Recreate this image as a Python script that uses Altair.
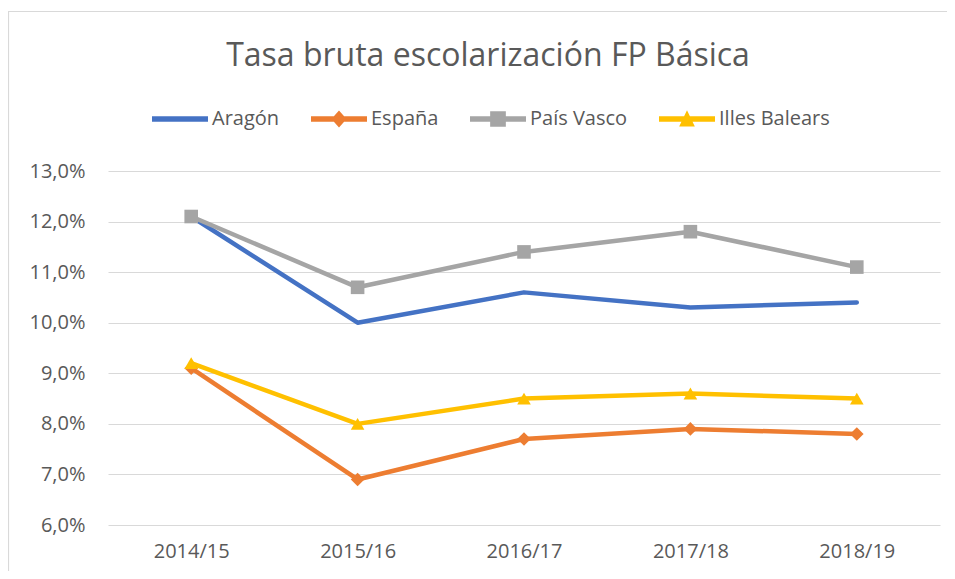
import altair as alt
import pandas as pd

years = ["2014/15", "2015/16", "2016/17", "2017/18", "2018/19"]
regions = ["Aragón", "España", "País Vasco", "Illes Balears"]
aragon = [12.1, 10.0, 10.6, 10.3, 10.4]
espana = [9.1, 6.9, 7.7, 7.9, 7.8]
pais_vasco = [12.1, 10.7, 11.4, 11.8, 11.1]
illes_balears = [9.2, 8.0, 8.5, 8.6, 8.5]
colors = ["#4472C4", "#ED7D31", "#A5A5A5", "#FFC000"]
markers = [None, "diamond", "square", "triangle-up"]
y_ticks = [6, 7, 8, 9, 10, 11, 12, 13]
title_text = "Tasa bruta escolarización FP Básica"

rows = []
for name, vals in zip(regions, [aragon, espana, pais_vasco, illes_balears]):
    for yr, v in zip(years, vals):
        rows.append({"region": name, "year": yr, "value": v})
df = pd.DataFrame(rows)

TXT = "#595959"
FONT = "Open Sans"

# legend symbols: line segment + marker (custom paths)
line_p = "M-1,-0.1H1V0.1H-1Z"
legend_paths = [
    line_p,
    line_p + "M0,-0.3L0.27,0L0,0.3L-0.27,0Z",
    line_p + "M-0.28,-0.28H0.28V0.28H-0.28Z",
    line_p + "M0,-0.31L0.28,0.27H-0.28Z",
]

legend = alt.Legend(
    orient="none", legendX=44, legendY=-80, direction="horizontal", columns=4,
    title=None, symbolSize=3136, symbolStrokeWidth=0, symbolOpacity=1,
    labelFont=FONT, labelFontSize=20, labelColor=TXT, labelOffset=4,
    columnPadding=31,
)

color_scale = alt.Scale(domain=regions, range=colors)
color = alt.Color("region:N", scale=color_scale, legend=legend)

x = alt.X("year:N", sort=years, title=None,
          scale=alt.Scale(type="point", padding=0.5),
          axis=alt.Axis(labelAngle=0, grid=False, domain=False, ticks=False,
                        labelPadding=16, labelFontSize=20, labelColor=TXT, labelFont=FONT))
y = alt.Y("value:Q", title=None,
          scale=alt.Scale(domain=[6, 13], nice=False, zero=False),
          axis=alt.Axis(values=y_ticks, grid=True, gridColor="#D9D9D9", gridWidth=1.2,
                        domain=False, ticks=False, tickSize=0, labelPadding=23,
                        labelFontSize=20, labelColor=TXT, labelFont=FONT,
                        labelExpr="replace(format(datum.value, '.1f'), '.', ',') + '%'"))

base = alt.Chart(df)

legend_carrier = base.transform_filter("false").mark_point(filled=True, opacity=1).encode(
    x=x, y=y, color=color,
    shape=alt.Shape("region:N", scale=alt.Scale(domain=regions, range=legend_paths), legend=legend),
)

lines = base.mark_line(strokeWidth=4.5, strokeCap="round", strokeJoin="round").encode(
    x=x, y=y, color=color)

point_layers = []
for r, m in zip(regions, markers):
    if m is None:
        continue
    point_layers.append(
        base.transform_filter(alt.datum.region == r).mark_point(
            filled=True, size=185, opacity=1, shape=m).encode(x=x, y=y, color=color))

border = alt.Chart(alt.Data(values=[{"a": 1}])).mark_rect(
    fillOpacity=0, stroke="#D9D9D9", strokeWidth=1.2).encode(
    x=alt.value(-99.5), x2=alt.value(1200), y=alt.value(-159.5), y2=alt.value(900))

chart = alt.layer(legend_carrier, border, lines, *point_layers).properties(
    width=832, height=354,
    title=alt.Title(title_text, fontSize=32, font=FONT, fontWeight="normal", color=TXT,
                    anchor="middle", dx=-36, offset=-62),
    autosize=alt.AutoSizeParams(type="none"),
    padding={"left": 100, "top": 163, "right": 7, "bottom": 46},
    background="white",
).configure_view(stroke=None)

chart.save("out.html", embed_options={"renderer": "svg", "actions": False})
